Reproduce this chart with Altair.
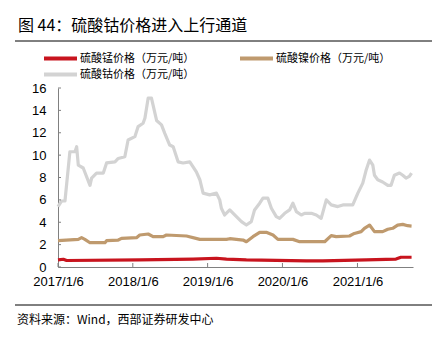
import altair as alt
import pandas as pd

TITLE = "图 44：硫酸钴价格进入上行通道"
SOURCE = "资料来源：Wind，西部证券研发中心"
S_MN = "硫酸锰价格（万元/吨）"
S_NI = "硫酸镍价格（万元/吨）"
S_CO = "硫酸钴价格（万元/吨）"

co_dates = ["2017-01-06", "2017-01-24", "2017-02-09", "2017-03-05", "2017-03-30", "2017-04-07",
            "2017-04-15", "2017-05-09", "2017-06-11", "2017-06-19", "2017-07-13", "2017-08-15",
            "2017-08-31", "2017-10-11", "2017-10-27", "2017-11-28", "2017-12-14", "2018-01-16",
            "2018-02-01", "2018-02-25", "2018-03-06", "2018-03-22", "2018-04-07", "2018-05-02",
            "2018-05-26", "2018-06-11", "2018-07-05", "2018-07-22", "2018-08-15", "2018-09-08",
            "2018-10-11", "2018-11-12", "2018-11-29", "2018-12-15", "2019-01-16", "2019-02-18",
            "2019-03-06", "2019-03-14", "2019-03-30", "2019-04-24", "2019-05-18", "2019-06-20",
            "2019-07-14", "2019-08-07", "2019-08-23", "2019-09-17", "2019-10-03", "2019-10-27",
            "2019-11-13", "2019-12-07", "2019-12-23", "2020-01-17", "2020-02-10", "2020-02-26",
            "2020-03-14", "2020-04-07", "2020-04-23", "2020-05-26", "2020-06-19", "2020-07-13",
            "2020-08-07", "2020-08-31", "2020-10-02", "2020-10-27", "2020-12-14", "2021-01-08",
            "2021-02-01", "2021-02-18", "2021-03-06", "2021-03-22", "2021-03-30", "2021-04-15",
            "2021-05-09", "2021-06-03", "2021-06-19", "2021-07-05", "2021-07-30", "2021-08-15",
            "2021-08-31", "2021-09-16", "2021-09-27"]
co_vals = [5.4, 5.9, 5.9, 10.3, 10.3, 10.75,
           9.1, 8.85, 7.3, 7.95, 8.4, 8.4,
           9.3, 9.4, 9.7, 9.85, 11.35, 11.65,
           12.55, 12.85, 13.3, 15.1, 15.1, 13.1,
           12.7, 11.95, 10.9, 10.75, 9.4, 9.3,
           9.4, 8.5, 7.8, 6.6, 6.45, 6.6,
           6.0, 5.25, 4.65, 5.1, 4.65, 4.05,
           3.75, 4.05, 5.1, 5.7, 6.15, 6.15,
           5.25, 4.5, 4.35, 4.8, 5.1, 5.7,
           4.95, 4.65, 4.8, 4.8, 4.65, 4.35,
           6.0, 5.55, 5.4, 5.55, 5.55, 6.6,
           7.5, 8.7, 9.56, 9.1, 8.2, 7.8,
           7.6, 7.3, 7.3, 8.2, 8.4, 8.2,
           7.95, 8.1, 8.4]

ni_dates = ["2017-01-06", "2017-04-15", "2017-05-01", "2017-05-17", "2017-06-11", "2017-08-23",
            "2017-08-31", "2017-10-27", "2017-11-12", "2018-01-24", "2018-02-09", "2018-03-22",
            "2018-04-15", "2018-06-03", "2018-06-19", "2018-09-25", "2018-11-29", "2019-04-08",
            "2019-04-24", "2019-06-28", "2019-07-14", "2019-08-15", "2019-09-17", "2019-10-19",
            "2019-11-21", "2019-12-15", "2020-02-26", "2020-03-30", "2020-07-30", "2020-08-31",
            "2020-09-24", "2020-11-28", "2020-12-22", "2021-01-24", "2021-02-09", "2021-03-06",
            "2021-03-30", "2021-05-09", "2021-06-03", "2021-06-27", "2021-07-21", "2021-08-15",
            "2021-09-08", "2021-09-27"]
ni_vals = [2.35, 2.47, 2.62, 2.47, 2.17, 2.17,
           2.35, 2.41, 2.56, 2.62, 2.86, 2.95,
           2.71, 2.71, 2.86, 2.77, 2.47, 2.47,
           2.53, 2.41, 2.26, 2.71, 3.1, 3.1,
           2.86, 2.47, 2.47, 2.26, 2.26, 2.8,
           2.71, 2.77, 3.0, 3.16, 3.46, 3.75,
           3.16, 3.16, 3.37, 3.46, 3.75, 3.81,
           3.69, 3.66]

mn_dates = ["2017-01-06", "2017-02-01", "2017-02-17", "2018-02-09", "2018-10-27", "2019-02-18",
            "2019-04-08", "2019-07-14", "2020-05-01", "2020-07-21", "2021-02-17", "2021-07-13",
            "2021-08-06", "2021-09-27"]
mn_vals = [0.63, 0.69, 0.58, 0.63, 0.71, 0.78,
           0.71, 0.63, 0.55, 0.55, 0.63, 0.71,
           0.87, 0.87]

y_ticks = [0, 2, 4, 6, 8, 10, 12, 14, 16]
x_tick_dates = ["2017-01-06", "2018-01-06", "2019-01-06", "2020-01-06", "2021-01-06"]

series = [S_MN, S_NI, S_CO]
colors = ["#C8141E", "#BF9A6E", "#D3D3D3"]
draw_order = {S_CO: 0, S_NI: 1, S_MN: 2}

rows = []
for name, ds, vs in [(S_CO, co_dates, co_vals), (S_NI, ni_dates, ni_vals), (S_MN, mn_dates, mn_vals)]:
    for d, v in zip(ds, vs):
        rows.append({"date": d + "T00:00:00", "value": v, "series": name, "ord": draw_order[name]})
df = pd.DataFrame(rows)

FONT = "Liberation Sans"
CJK = "Noto Sans CJK SC"

x_scale = alt.Scale(domain=[alt.DateTime(year=2017, month=1, date=6),
                            alt.DateTime(year=2021, month=10, date=4)])
y_scale = alt.Scale(domain=[0, 16], nice=False)
color_scale = alt.Scale(domain=series, range=colors)

x_vals = [alt.DateTime(year=int(d[:4]), month=int(d[5:7]), date=int(d[8:10])) for d in x_tick_dates]
x_axis = alt.Axis(values=x_vals, format="%Y/%-m/%-d", labelFont=FONT, labelFontSize=13,
                  labelColor="#000", domainColor="#808080", tickSize=0, labelPadding=8,
                  grid=False, labelFlush=False, labelOverlap=False, title=None)
y_axis = alt.Axis(values=y_ticks, labelFont=FONT, labelFontSize=13, labelColor="#000",
                  domainColor="#808080", tickSize=0, labelPadding=12, grid=False,
                  labelOverlap=False, title=None)

lines = alt.Chart(df).mark_line(strokeWidth=3.2, strokeJoin="round").encode(
    x=alt.X("date:T", scale=x_scale, axis=x_axis),
    y=alt.Y("value:Q", scale=y_scale, axis=y_axis),
    color=alt.Color("series:N", scale=color_scale, legend=None),
    order=alt.Order("ord:Q"),
    detail="series:N",
)

xt = alt.Chart(pd.DataFrame({"d": [d + "T00:00:00" for d in x_tick_dates]})).mark_rule(
    color="#808080", strokeWidth=1).encode(
    x=alt.X("d:T", scale=x_scale, axis=x_axis), y=alt.value(179), y2=alt.value(175))

yt = alt.Chart(pd.DataFrame({"v": y_ticks})).mark_rule(color="#808080", strokeWidth=1).encode(
    y=alt.Y("v:Q", scale=y_scale, axis=y_axis), x=alt.value(0), x2=alt.value(3))

# manual legend (two entries on the first row, one on the second)
legend_layers = []
for name, lx, ly in [(S_MN, -14, -29.5), (S_NI, 182, -29.5), (S_CO, -14, -13.5)]:
    ldf = pd.DataFrame({"series": [name]})
    legend_layers.append(alt.Chart(ldf).mark_rule(strokeWidth=4).encode(
        x=alt.value(lx), x2=alt.value(lx + 33), y=alt.value(ly),
        color=alt.Color("series:N", scale=color_scale, legend=None)))
    legend_layers.append(alt.Chart(ldf).mark_text(
        font=CJK, fontSize=11, align="left", baseline="middle", color="#000").encode(
        text="series:N", x=alt.value(lx + 36), y=alt.value(ly)))

title = alt.Chart(pd.DataFrame({"t": [TITLE]})).mark_text(
    font=CJK, fontSize=16, align="left", baseline="middle", color="#000").encode(
    text="t:N", x=alt.value(-40), y=alt.value(-62))

src = alt.Chart(pd.DataFrame({"t": [SOURCE]})).mark_text(
    font=CJK, fontSize=12, align="left", baseline="middle", color="#000").encode(
    text="t:N", x=alt.value(-41), y=alt.value(232))

top_rule = alt.Chart(pd.DataFrame({"a": [0]})).mark_rule(color="#000", strokeWidth=1).encode(
    x=alt.value(-43), x2=alt.value(374), y=alt.value(-47))
bot_rule = alt.Chart(pd.DataFrame({"a": [0]})).mark_rule(color="#000", strokeWidth=1).encode(
    x=alt.value(-43), x2=alt.value(374), y=alt.value(217))

chart = alt.layer(lines, xt, yt, *legend_layers, title, src, top_rule, bot_rule).properties(
    width=355, height=179,
    autosize=alt.AutoSizeParams(type="none"),
    padding={"left": 58, "top": 88, "right": 24, "bottom": 71},
    background="#ffffff",
).configure_view(stroke=None)

chart.save("out.html", embed_options={"renderer": "svg", "actions": False})
